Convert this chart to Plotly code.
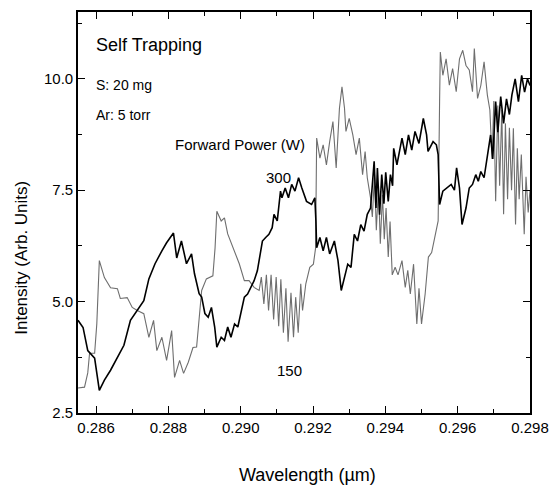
import plotly.graph_objects as go

# ---- data ----
wl_300 = [0.28550, 0.28564, 0.28577, 0.28596, 0.28609, 0.28623, 0.28640, 0.28659, 0.28677, 0.28695,
          0.28714, 0.28732, 0.28746, 0.28763, 0.28782, 0.28795, 0.28814, 0.28823, 0.28836, 0.28850,
          0.28864, 0.28872, 0.28885, 0.28892, 0.28901, 0.28910, 0.28919, 0.28928, 0.28934, 0.28946,
          0.28955, 0.28964, 0.28973, 0.28983, 0.28992, 0.29001, 0.29010, 0.29019, 0.29028, 0.29037,
          0.29046, 0.29051, 0.29060, 0.29069, 0.29078, 0.29087, 0.29092, 0.29101, 0.29105, 0.29110,
          0.29114, 0.29123, 0.29132, 0.29141, 0.29150, 0.29160, 0.29169, 0.29182, 0.29196, 0.29205,
          0.29208, 0.29210, 0.29219, 0.29228, 0.29237, 0.29246, 0.29259, 0.29269, 0.29278, 0.29287,
          0.29296, 0.29305, 0.29314, 0.29323, 0.29332, 0.29341, 0.29350, 0.29359, 0.29369, 0.29374,
          0.29378, 0.29384, 0.29390, 0.29396, 0.29401, 0.29408, 0.29414, 0.29420, 0.29423, 0.29432,
          0.29446, 0.29455, 0.29464, 0.29473, 0.29482, 0.29493, 0.29505, 0.29514, 0.29518, 0.29532,
          0.29541, 0.29546, 0.29550, 0.29559, 0.29569, 0.29582, 0.29591, 0.29597, 0.29605, 0.29612,
          0.29623, 0.29632, 0.29641, 0.29650, 0.29657, 0.29664, 0.29673, 0.29682, 0.29691, 0.29697,
          0.29705, 0.29711, 0.29719, 0.29727, 0.29735, 0.29743, 0.29750, 0.29759, 0.29768, 0.29777,
          0.29785, 0.29793, 0.29800]
int_300 = [4.58, 4.42, 3.90, 3.73, 3.01, 3.24, 3.46, 3.75, 4.02, 4.58,
           4.80, 5.02, 5.51, 5.85, 6.14, 6.32, 6.54, 5.98, 6.36, 5.85,
           6.07, 5.63, 5.18, 5.10, 4.73, 4.65, 4.87, 4.43, 3.98, 4.20,
           4.13, 4.43, 4.20, 4.50, 4.43, 4.73, 5.10, 5.17, 5.32, 5.47,
           5.69, 5.92, 6.36, 6.44, 6.51, 6.66, 6.96, 6.81, 7.18, 7.48,
           7.33, 7.55, 7.33, 7.63, 7.48, 7.78, 7.55, 7.25, 7.18, 7.33,
           6.80, 6.21, 6.44, 6.14, 6.44, 6.07, 6.36, 5.92, 5.25, 5.54,
           5.84, 5.77, 6.51, 6.36, 6.73, 6.58, 6.96, 7.10, 8.15, 7.10,
           8.00, 6.95, 7.85, 7.20, 7.90, 7.25, 7.85, 7.60, 8.44, 8.07,
           8.67, 8.30, 8.74, 8.40, 8.82, 8.55, 9.11, 8.74, 8.37, 8.59,
           8.52, 8.30, 7.18, 7.48, 7.55, 7.63, 7.50, 8.00, 7.55, 6.73,
           7.10, 7.55, 7.63, 7.85, 7.70, 7.92, 7.78, 8.30, 8.74, 8.20,
           9.49, 8.80, 9.60, 9.00, 9.55, 9.20, 9.64, 10.00, 9.49, 10.08,
           9.70, 10.00, 9.85]

wl_150 = [0.28550, 0.28568, 0.28577, 0.28582, 0.28596, 0.28602, 0.28609, 0.28623, 0.28640, 0.28659,
          0.28667, 0.28686, 0.28700, 0.28714, 0.28732, 0.28746, 0.28759, 0.28768, 0.28782, 0.28795,
          0.28809, 0.28817, 0.28831, 0.28842, 0.28855, 0.28868, 0.28878, 0.28892, 0.28905, 0.28923,
          0.28929, 0.28934, 0.28946, 0.28955, 0.28964, 0.28983, 0.28996, 0.29010, 0.29023, 0.29037,
          0.29051, 0.29057, 0.29064, 0.29071, 0.29077, 0.29084, 0.29091, 0.29098, 0.29105, 0.29111,
          0.29118, 0.29125, 0.29131, 0.29139, 0.29146, 0.29152, 0.29159, 0.29166, 0.29171, 0.29180,
          0.29191, 0.29201, 0.29207, 0.29210, 0.29219, 0.29228, 0.29237, 0.29246, 0.29255, 0.29264,
          0.29273, 0.29280, 0.29287, 0.29291, 0.29300, 0.29310, 0.29319, 0.29328, 0.29337, 0.29344,
          0.29350, 0.29359, 0.29364, 0.29370, 0.29375, 0.29381, 0.29386, 0.29392, 0.29397, 0.29402,
          0.29408, 0.29413, 0.29419, 0.29427, 0.29435, 0.29446, 0.29455, 0.29462, 0.29469, 0.29478,
          0.29487, 0.29493, 0.29500, 0.29510, 0.29519, 0.29528, 0.29537, 0.29546, 0.29550, 0.29552,
          0.29559, 0.29568, 0.29577, 0.29586, 0.29596, 0.29605, 0.29614, 0.29623, 0.29632, 0.29641,
          0.29646, 0.29655, 0.29664, 0.29673, 0.29682, 0.29689, 0.29695, 0.29700, 0.29705, 0.29711,
          0.29716, 0.29722, 0.29727, 0.29732, 0.29738, 0.29743, 0.29749, 0.29754, 0.29760, 0.29765,
          0.29770, 0.29776, 0.29784, 0.29789, 0.29795, 0.29800]
int_150 = [3.06, 3.08, 3.40, 3.84, 3.84, 4.50, 5.92, 5.54, 5.31, 5.29,
           5.07, 5.09, 4.87, 4.80, 4.73, 4.20, 4.58, 3.90, 4.20, 3.68,
           4.35, 3.30, 3.68, 3.39, 3.64, 3.97, 3.98, 5.25, 5.51, 5.58,
           6.20, 7.03, 6.81, 6.88, 6.52, 6.14, 5.85, 5.47, 5.47, 5.32,
           5.25, 5.55, 4.95, 5.60, 4.80, 5.60, 4.60, 5.55, 4.45, 5.50,
           4.30, 5.30, 4.10, 5.20, 4.20, 5.10, 4.30, 5.40, 4.80, 5.40,
           5.77, 5.84, 6.20, 8.67, 8.22, 8.52, 8.07, 8.59, 9.04, 8.00,
           9.34, 9.82, 9.34, 8.82, 9.11, 8.74, 8.30, 8.67, 7.85, 8.37,
           7.78, 7.33, 6.90, 7.85, 6.60, 7.60, 6.30, 7.40, 6.40, 7.10,
           6.00, 6.80, 5.60, 5.77, 5.60, 5.92, 5.32, 5.70, 5.17, 5.84,
           4.50, 5.30, 4.50, 5.17, 6.00, 6.10, 6.44, 6.81, 9.50, 10.60,
           10.08, 10.45, 9.86, 10.23, 9.71, 10.45, 10.64, 10.30, 10.20, 9.71,
           10.68, 9.56, 9.85, 10.38, 9.64, 9.30, 8.20, 9.50, 7.25, 9.40,
           7.60, 9.30, 6.96, 9.00, 7.30, 8.90, 7.50, 8.89, 6.73, 8.44,
           7.30, 8.30, 6.51, 7.80, 7.00, 7.50]

x_range = [0.2855, 0.298]
y_range = [2.5, 11.5]

FONT = "Liberation Sans, Arial, sans-serif"

fig = go.Figure()
fig.add_trace(go.Scatter(x=wl_150, y=int_150, mode="lines",
                         line=dict(color="#6e6e6e", width=1.1), name="150"))
fig.add_trace(go.Scatter(x=wl_300, y=int_300, mode="lines",
                         line=dict(color="#000000", width=1.6), name="300"))

axis_common = dict(showgrid=False, zeroline=False, showline=True, linecolor="black",
                   linewidth=1.6, mirror="ticks", ticks="inside", ticklen=7,
                   tickwidth=1.3, tickcolor="black",
                   tickfont=dict(family=FONT, size=15, color="black"))

fig.update_xaxes(range=x_range, tick0=0.286, dtick=0.002, tickformat=".3f",
                 minor=dict(ticks="inside", dtick=0.001, tick0=0.286, ticklen=4,
                            tickcolor="black", tickwidth=1.1),
                 **axis_common)
fig.update_yaxes(range=y_range, tick0=2.5, dtick=2.5, tickformat=".1f",
                 minor=dict(ticks="inside", dtick=1.25, tick0=2.5, ticklen=4,
                            tickcolor="black", tickwidth=1.1),
                 **axis_common)

ann = [
    dict(text="Self Trapping", x=0.035, y=0.917, size=18),
    dict(text="S: 20 mg", x=0.035, y=0.819, size=14),
    dict(text="Ar: 5 torr", x=0.035, y=0.743, size=14),
    dict(text="Forward Power (W)", x=0.211, y=0.669, size=15),
    dict(text="300", x=0.411, y=0.587, size=15),
    dict(text="150", x=0.435, y=0.107, size=15),
]
for a in ann:
    fig.add_annotation(text=a["text"], x=a["x"], y=a["y"], xref="paper", yref="paper",
                       xanchor="left", yanchor="middle", showarrow=False,
                       font=dict(family=FONT, size=a["size"], color="black"))

fig.add_annotation(text="Wavelength (\u00b5m)", x=0.507, y=-0.154, xref="paper", yref="paper",
                   xanchor="center", yanchor="middle", showarrow=False,
                   font=dict(family=FONT, size=18, color="black"))
fig.add_annotation(text="Intensity (Arb. Units)", x=-0.124, y=0.387, xref="paper", yref="paper",
                   xanchor="center", yanchor="middle", showarrow=False, textangle=-90,
                   font=dict(family=FONT, size=17, color="black"))

fig.update_layout(width=559, height=489, showlegend=False,
                  margin=dict(l=78, r=21, t=10, b=76),
                  plot_bgcolor="white", paper_bgcolor="white",
                  font=dict(family=FONT, color="black"))

fig.write_html("out.html",
               config={"displayModeBar": False},
               post_script="document.body.style.margin='0';document.body.style.overflow='hidden';")
